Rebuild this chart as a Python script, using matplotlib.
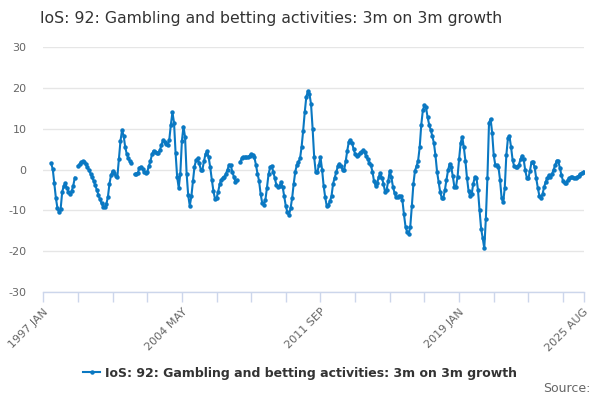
import numpy as np
import pandas as pd
import matplotlib
matplotlib.use("Agg")
import matplotlib.pyplot as plt
from matplotlib.lines import Line2D

plt.rcParams["axes.unicode_minus"] = False

title = "IoS: 92: Gambling and betting activities: 3m on 3m growth"
series_name = "IoS: 92: Gambling and betting activities: 3m on 3m growth"

axis_start = "1997-01"
first_value = "1997-06"
last_value = "2025-08"
nan = np.nan

# 3m on 3m growth (%), one row per year
growth = [
    1.5, 0.1, -3.4, -7, -9.5, -10.5, -9.7,                               # 1997 jun-dec
    -5.5, -4, -3.4, -4.5, -5.5, -6, -5.3, -4, -2, nan, 0.9, 1.3,         # 1998
    1.8, 2, 1.8, 1.4, 0.6, -0.2, -1, -1.9, -2.8, -3.9, -5, -6.2,         # 1999
    -7.3, -8.3, -9.1, -9.3, -8.5, -6.8, -3.5, -1.4, -0.4, -0.8, -1.6, -1.9,  # 2000
    2.5, 7, 9.6, 8.3, 5.5, 3.8, 2.8, 2, 1.5, nan, -1.2, -1,              # 2001
    -0.9, 0.4, 0.7, 0.2, -0.5, -0.9, -0.6, 0.8, 2, 3.7, 4.6, 4.4,        # 2002
    4.1, 4, 4.7, 6, 7.2, 6.8, 6.2, 6, 7.3, 11, 14, 11.5,                 # 2003
    4, -1.9, -4.5, -1, 7, 10.5, 8, -1, -6.3, -8.9, -6.6, -2.9,           # 2004
    0.7, 2.3, 2.7, 1.5, 0, -0.1, 2, 3.8, 4.5, 3, 0.5, -2.5,              # 2005
    -5.2, -7.2, -7, -5.5, -3.6, -2.5, -2, -1.8, -1, 0, 1.2, 1,           # 2006
    -0.5, -1.8, -3, -2.6, nan, 1.8, 2.7, 3.1, 3, 3, 3, 3.4,              # 2007
    3.7, 3.6, 3, 1.2, -1, -2.8, -6, -8.2, -8.6, -7.5, -4.5, -1.2,        # 2008
    0.5, 0.9, -0.5, -2.2, -3.8, -4.2, -4, -3.1, -4.3, -6.6, -9, -10.5,   # 2009
    -11.2, -9.5, -7, -3.5, -0.5, 1.1, 1.8, 2.7, 5.5, 9.5, 14, 17.8,      # 2010
    19.2, 18.5, 16, 10, 3, -0.7, -0.7, 1.2, 3, 0, -4, -6.8,              # 2011
    -9, -8.6, -7.8, -6.5, -3.5, -2, -0.7, 0.8, 1.4, 0.8, -0.1, -0.1,     # 2012
    2, 4.6, 6.8, 7.2, 6.6, 5, 3.8, 3.2, 3.6, 4, 4.4, 4.7,                # 2013
    4.2, 3.3, 2.5, 1.7, 1, -0.5, -2.9, -4, -3.3, -1.8, -0.9, -2,         # 2014
    -3.5, -5.5, -5, -2.8, -0.3, -1.9, -4.2, -5.7, -6.8, -6.8, -6.4, -6.5,  # 2015
    -7.5, -11, -14, -15.3, -15.8, -14, -9, -3.5, -0.3, 0.8, 2.2, 5.5,    # 2016
    11, 14.5, 15.7, 15.2, 12.8, 11, 9.7, 8.2, 6.5, 3.5, -0.5, -3,        # 2017
    -5.5, -7, -6.9, -5, -2.5, -0.2, 1.4, 0.6, -1.6, -4.2, -4.3, -1.9,    # 2018
    2.5, 6.5, 8, 5.5, 2.2, -2, -5.2, -6.5, -6, -3.5, -1.8, -2,           # 2019
    -5, -10, -14.5, -16.8, -19.3, -12, -2, 11.4, 12.4, 9, 3.5, 1.1,      # 2020
    1, 0.6, -2.5, -7, -8, -4.5, 3.5, 7.6, 8.1, 5.5, 2.3, 0.8,            # 2021
    0.7, 0.7, 1.2, 2.5, 3.4, 2.5, -0.2, -2, -2.2, -0.3, 1.8, 1.8,        # 2022
    0.5, -2.2, -4.5, -6.5, -7.1, -6, -4.3, -3, -2.2, -1.4, -1.9, -1.2,   # 2023
    0, 1, 2.2, 2, 0.4, -1.4, -2.8, -3.4, -3.2, -2.6, -2.2, -1.9,         # 2024
    -1.9, -2, -2, -1.9, -1.5, -1.1, -0.8, -0.5,                          # 2025 jan-aug
]

tick_labels = ["1997 JAN", "2004 MAY", "2011 SEP", "2019 JAN", "2025 AUG"]
tick_every = 22  # months between minor ticks

months = pd.period_range(axis_start, last_value, freq="M")
s = pd.Series(growth, index=pd.period_range(first_value, last_value, freq="M"))
s = s.reindex(months)
x = np.arange(len(months))

blue = "#0a78c2"
grey_text = "#666666"

fig = plt.figure(figsize=(6, 4), dpi=100)
ax = fig.add_axes([43.3 / 600, 1 - 292 / 400, (583.5 - 43.3) / 600, 245 / 400])

ax.plot(x, s.values, color=blue, lw=1.5, marker="o", ms=2.2, mec=blue, mfc=blue, zorder=3)

ax.set_xlim(0, len(months) - 1)
ax.set_ylim(-30, 30)
ax.set_yticks([-30, -20, -10, 0, 10, 20, 30])
ax.yaxis.grid(True, color="#e6e6e6", lw=1)
ax.set_axisbelow(True)
ax.tick_params(axis="y", length=0, pad=12, labelsize=8, labelcolor=grey_text)

# ticks every 22 months plus the last month, labels on a few of them
tick_pos = list(range(0, len(months), tick_every)) + [len(months) - 1]
ax.set_xticks(tick_pos)
label_pos = [months.get_loc(pd.Period(lbl.replace(" ", "-"), freq="M")) for lbl in
             ["1997 Jan", "2004 May", "2011 Sep", "2019 Jan", "2025 Aug"]]
ax.set_xticklabels([tick_labels[label_pos.index(p)] if p in label_pos else "" for p in tick_pos],
                   rotation=45, ha="right", va="top", rotation_mode="anchor")
ax.tick_params(axis="x", length=7.5, width=1, color="#ccd6eb", labelsize=8,
               labelcolor=grey_text, pad=3)

for side in ["top", "right", "left"]:
    ax.spines[side].set_visible(False)
ax.spines["bottom"].set_color("#ccd6eb")
ax.spines["bottom"].set_linewidth(1)

fig.text(40 / 600, 1 - 18 / 400, title, fontsize=11.3, color="#333333", va="center", ha="left")

handle = Line2D([], [], color=blue, lw=1.5, marker="o", ms=2.2)
fig.legend([handle], [series_name], loc="center", bbox_to_anchor=(0.5, 1 - 373 / 400),
           frameon=False, handlelength=1.4, handletextpad=0.4,
           prop={"weight": "bold", "size": 9}, labelcolor="#333333")

fig.text(590 / 600, 1 - 389 / 400, "Source:", fontsize=9, color=grey_text, ha="right", va="center")

fig.savefig("out.png", dpi=100)
